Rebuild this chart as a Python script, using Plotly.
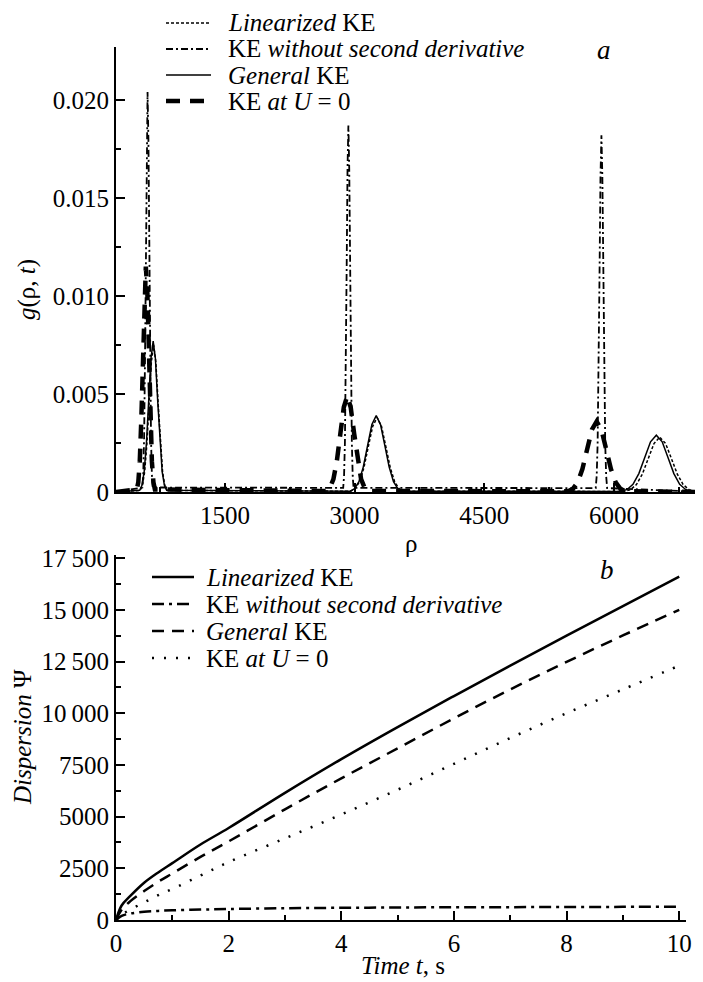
import plotly.graph_objects as go

# ---------------- Panel a data: g(rho, t) ----------------
LIN_RHO = [240, 519, 545, 571, 597, 623, 649, 675, 701, 727, 753, 779, 805, 831,
           2954, 3005, 3056, 3107, 3158, 3209, 3260, 3311, 3362, 3413, 3464, 3515, 3566,
           6125, 6193, 6260, 6328, 6395, 6463, 6530, 6598, 6665, 6733, 6800, 6868, 6935, 7030]
LIN_G = [0, 0.00008, 0.00033, 0.00101, 0.00244, 0.00455, 0.00662, 0.0075, 0.00662, 0.00455, 0.00244, 0.00101, 0.00033, 0.00008,
         0.00004, 0.00017, 0.00051, 0.00123, 0.0023, 0.00335, 0.0038, 0.00335, 0.0023, 0.00123, 0.00051, 0.00017, 0.00004,
         0.00003, 0.00012, 0.00038, 0.00091, 0.0017, 0.00247, 0.0028, 0.00247, 0.0017, 0.00091, 0.00038, 0.00012, 0.00003, 0]

NOD2_RHO = [240, 545, 555, 565, 575, 585, 595, 605, 615, 625, 635, 645, 655, 665,
            2868, 2878, 2888, 2898, 2908, 2918, 2928, 2938, 2948, 2958, 2968, 2978, 2988,
            5789, 5800, 5811, 5822, 5833, 5844, 5855, 5866, 5877, 5888, 5899, 5910, 5921, 7030]
NOD2_G = [0, 0.00023, 0.0009, 0.00276, 0.00662, 0.01237, 0.0180, 0.0204, 0.0180, 0.01237, 0.00662, 0.00276, 0.0009, 0.00023,
          0.00021, 0.00082, 0.00253, 0.00607, 0.01134, 0.0165, 0.0187, 0.0165, 0.01134, 0.00607, 0.00253, 0.00082, 0.00021,
          0.0002, 0.0008, 0.00246, 0.00591, 0.01104, 0.01606, 0.0182, 0.01606, 0.01104, 0.00591, 0.00246, 0.0008, 0.0002, 0]

GEN_RHO = [240, 514, 540, 566, 592, 618, 644, 670, 696, 722, 748, 774, 800, 826,
           2950, 3000, 3050, 3100, 3150, 3200, 3250, 3300, 3350, 3400, 3450, 3500, 3550,
           6085, 6153, 6220, 6288, 6355, 6423, 6490, 6558, 6625, 6693, 6760, 6828, 6895, 7030]
GEN_G = [0, 0.00009, 0.00034, 0.00104, 0.0025, 0.00467, 0.0068, 0.0077, 0.0068, 0.00467, 0.0025, 0.00104, 0.00034, 0.00009,
         0.00004, 0.00017, 0.00053, 0.00127, 0.00237, 0.00344, 0.0039, 0.00344, 0.00237, 0.00127, 0.00053, 0.00017, 0.00004,
         0.00003, 0.00013, 0.00039, 0.00094, 0.00176, 0.00256, 0.0029, 0.00256, 0.00176, 0.00094, 0.00039, 0.00013, 0.00003, 0]

U0_RHO = [240, 480, 498, 515, 533, 550, 568, 585, 603, 620, 638, 655, 673, 690,
          2675, 2715, 2755, 2795, 2835, 2875, 2915, 2955, 2995, 3035, 3075, 3115, 3155,
          5470, 5525, 5580, 5635, 5690, 5745, 5800, 5855, 5910, 5965, 6020, 6075, 6130, 7030]
U0_G = [0, 0.00013, 0.0005, 0.00156, 0.00373, 0.00697, 0.01015, 0.0115, 0.01015, 0.00697, 0.00373, 0.00156, 0.0005, 0.00013,
        0.00005, 0.00022, 0.00066, 0.00159, 0.00297, 0.00432, 0.0049, 0.00432, 0.00297, 0.00159, 0.00066, 0.00022, 0.00005,
        0.00004, 0.00016, 0.00049, 0.00117, 0.00218, 0.00318, 0.0036, 0.00318, 0.00218, 0.00117, 0.00049, 0.00016, 0.00004, 0]

A_XTICKS = [1500, 3000, 4500, 6000]
A_XMINOR = [750, 2250, 3750, 5250, 6750]
A_YTICKS = [0, 0.005, 0.010, 0.015, 0.020]
A_YTICKTEXT = ["0", "0.005", "0.010", "0.015", "0.020"]
A_YMINOR = [0.0025, 0.0075, 0.0125, 0.0175]

# ---------------- Panel b data: Dispersion vs time ----------------
T = [0, 0.1, 0.25, 0.5, 0.75, 1, 1.5, 2, 3, 4, 5, 6, 7, 8, 9, 10]
PSI_LIN = [0, 700, 1150, 1800, 2300, 2750, 3650, 4450, 6150, 7780, 9330, 10830, 12300, 13750, 15180, 16600]
PSI_NOD2 = [0, 200, 310, 400, 440, 470, 505, 530, 570, 590, 605, 615, 622, 630, 635, 640]
PSI_GEN = [0, 500, 900, 1400, 1850, 2250, 3050, 3800, 5350, 6850, 8300, 9750, 11150, 12480, 13760, 15000]
PSI_U0 = [0, 250, 500, 850, 1200, 1500, 2150, 2800, 3950, 5100, 6300, 7550, 8800, 10000, 11150, 12300]

B_XTICKS = [0, 2, 4, 6, 8, 10]
B_XMINOR = [1, 3, 5, 7, 9]
B_YTICKS = [0, 2500, 5000, 7500, 10000, 12500, 15000, 17500]
B_YTICKTEXT = ["0", "2500", "5000", "7500", "10\u2009000", "12\u2009500", "15\u2009000", "17\u2009500"]
B_YMINOR = [1250, 3750, 6250, 8750, 11250, 13750, 16250]

NAMES = ["<i>Linearized</i> KE", "KE <i>without second derivative</i>",
         "<i>General</i> KE", "KE <i>at U</i> = 0"]

FONT = "'Liberation Serif', 'Times New Roman', 'DejaVu Serif', serif"
W, H = 703, 982
OFF = 8  # page body margin offset seen in the screenshot


def px_x(p):
    return (p - OFF) / W


def px_y(p):
    return 1 - (p - OFF) / H


# line styles
STY_A = [dict(color="black", width=1.5, dash="3px,2px"),
         dict(color="black", width=1.8, dash="7px,3px,2px,3px"),
         dict(color="black", width=1.5),
         dict(color="black", width=4.5, dash="14px,10px")]
STY_B = [dict(color="black", width=2.5),
         dict(color="black", width=2.5, dash="12px,5px,3px,5px"),
         dict(color="black", width=2.5, dash="12px,8px"),
         dict(color="black", width=2.5, dash="2px,10px")]

fig = go.Figure()

for xs, ys, sty, nm in zip([LIN_RHO, NOD2_RHO, GEN_RHO, U0_RHO], [LIN_G, NOD2_G, GEN_G, U0_G], STY_A, NAMES):
    fig.add_trace(go.Scatter(x=xs, y=ys, mode="lines", name=nm, line=sty,
                             xaxis="x", yaxis="y", showlegend=False))

for ys, sty, nm in zip([PSI_LIN, PSI_NOD2, PSI_GEN, PSI_U0], STY_B, NAMES):
    fig.add_trace(go.Scatter(x=T, y=ys, mode="lines", name=nm, line=sty, line_shape="spline",
                             xaxis="x2", yaxis="y2", showlegend=False))

axis_common = dict(showline=True, linecolor="black", linewidth=2, ticks="inside", tickcolor="black",
                   tickwidth=1.5, ticklen=9, showgrid=False, zeroline=False, automargin=False,
                   tickfont=dict(family=FONT, size=25, color="black"))
minor_common = dict(ticks="inside", ticklen=5, tickwidth=1.5, tickcolor="black", showgrid=False)

fig.update_layout(
    width=W, height=H, margin=dict(l=0, r=0, t=0, b=0, pad=0, autoexpand=False),
    paper_bgcolor="white", plot_bgcolor="white",
    font=dict(family=FONT, color="black"),
    showlegend=False,
    xaxis=dict(domain=[px_x(116), px_x(703)], range=[240, 7030], anchor="y",
               tickmode="array", tickvals=A_XTICKS,
               minor=dict(tickmode="array", tickvals=A_XMINOR, **minor_common), **axis_common),
    yaxis=dict(domain=[px_y(492), px_y(47)], range=[0, 0.0227], anchor="x",
               tickmode="array", tickvals=A_YTICKS, ticktext=A_YTICKTEXT,
               minor=dict(tickmode="array", tickvals=A_YMINOR, **minor_common), **axis_common),
    xaxis2=dict(domain=[px_x(116), px_x(686)], range=[0, 10.12], anchor="y2",
                tickmode="array", tickvals=B_XTICKS,
                minor=dict(tickmode="array", tickvals=B_XMINOR, **minor_common), **axis_common),
    yaxis2=dict(domain=[px_y(920), px_y(555)], range=[0, 17650], anchor="x2",
                tickmode="array", tickvals=B_YTICKS, ticktext=B_YTICKTEXT,
                minor=dict(tickmode="array", tickvals=B_YMINOR, **minor_common), **axis_common),
)

LEG_FONT = dict(family=FONT, size=25, color="black")


def add_legend(styles, rows, x0, x1, xt):
    for sty, nm, yy in zip(styles, NAMES, rows):
        fig.add_shape(type="line", xref="paper", yref="paper",
                      x0=px_x(x0), x1=px_x(x1), y0=px_y(yy), y1=px_y(yy),
                      line=sty)
        fig.add_annotation(text=nm, x=px_x(xt), y=px_y(yy), xref="paper", yref="paper",
                           xanchor="left", yanchor="middle", showarrow=False, font=LEG_FONT)


add_legend(STY_A, [23, 49, 75, 101], 166, 211, 226)
add_legend(STY_B, [577, 604, 631, 658], 152, 194, 204)


def ann(text, x, y, size=25, angle=0):
    fig.add_annotation(text=text, x=px_x(x), y=px_y(y), xref="paper", yref="paper",
                       xanchor="center", yanchor="middle", showarrow=False, textangle=angle,
                       font=dict(family=FONT, size=size, color="black"))


ann("<i>a</i>", 604, 50, size=27)
ann("<i>b</i>", 607, 570, size=27)
ann("ρ", 411, 543)
ann("<i>g</i>(ρ, <i>t</i>)", 27, 290, angle=-90)
ann("<i>Dispersion</i> Ψ", 22, 737, angle=-90)
ann("<i>Time t</i>, s", 403, 965)

fig.write_html("out.html")
